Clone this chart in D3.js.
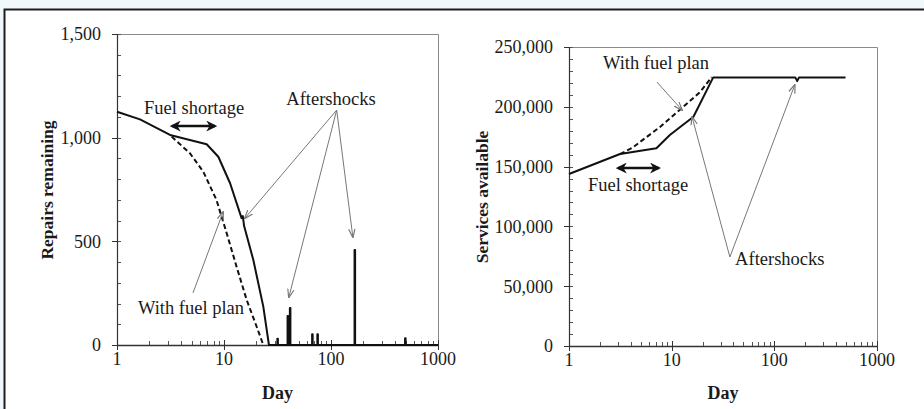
<!DOCTYPE html>
<html>
<head>
<meta charset="utf-8">
<script src="https://cdn.jsdelivr.net/npm/d3@7"></script>
<style>
  body { margin: 0; background: #f1f8fb; }
  svg { display: block; }
  text { font-family: "Liberation Serif", "Times New Roman", serif; fill: #1a1a1a; }
</style>
</head>
<body>
<svg width="924" height="409"></svg>
<script>
// ---- data ----
const dayTicks = [1, 10, 100, 1000];

// left panel: repairs remaining
const repairsDays = [1, 1.64, 3.13, 6.89, 8.85, 11.4, 14.6, 15.0, 15.4, 18.8, 23.3, 26.3, 1000];
const repairsVals = [1125, 1088, 1013, 968, 908, 780, 612, 622, 575, 410, 185, 0, 0];
const repairsPlanDays = [3.24, 4.8, 6.4, 8.5, 10.6, 13.1, 16.3, 20.2, 23.3];
const repairsPlanVals = [1005, 925, 836, 700, 539, 378, 217, 88, 0];
const spikeDays = [31.7, 39.5, 41.5, 67, 75, 167, 495];
const spikeVals = [30, 140, 178, 52, 52, 458, 32];
const repairsTicks = [0, 500, 1000, 1500];

// right panel: services available
const servDays = [1, 3.14, 7.1, 9.6, 16.3, 25.4, 160, 167, 174, 494];
const servVals = [143800, 160500, 165300, 176400, 191700, 224600, 224600, 221500, 224600, 224600];
const servPlanDays = [3.14, 4.1, 7.7, 12.6, 18.9, 24.6];
const servPlanVals = [160500, 165500, 183100, 199000, 212300, 224900];
const servTicks = [0, 50000, 100000, 150000, 200000, 250000];

const svg = d3.select('svg');
svg.append('rect').attr('width', 924).attr('height', 409).attr('fill', '#f1f8fb');
svg.append('rect').attr('x', 4).attr('y', 9).attr('width', 920).attr('height', 400).attr('fill', '#fff');
svg.append('path').attr('d', 'M4.5,409 L4.5,9.5 L924,9.5')
  .attr('fill', 'none').attr('stroke', '#1e1e1e').attr('stroke-width', 2);

const defs = svg.append('defs');
defs.append('marker').attr('id', 'thin')
  .attr('viewBox', '0 0 10 10').attr('refX', 9).attr('refY', 5)
  .attr('markerWidth', 9).attr('markerHeight', 9).attr('markerUnits', 'userSpaceOnUse')
  .attr('orient', 'auto')
  .append('path').attr('d', 'M0,1.5 L10,5 L0,8.5').attr('fill', 'none').attr('stroke', '#777').attr('stroke-width', 1.3);
defs.append('marker').attr('id', 'bold')
  .attr('viewBox', '0 0 10 10').attr('refX', 8).attr('refY', 5)
  .attr('markerWidth', 11).attr('markerHeight', 11).attr('markerUnits', 'userSpaceOnUse')
  .attr('orient', 'auto-start-reverse')
  .append('path').attr('d', 'M0,0 L10,5 L0,10 L3,5 Z').attr('fill', '#111');

function zip(ds, vs) { return ds.map((d, i) => ({ d: d, v: vs[i] })); }

function panel(cfg) {
  const x = d3.scaleLog().domain([1, 1000]).range([cfg.x0, cfg.x1]);
  const y = d3.scaleLinear().domain([0, cfg.yMax]).range([cfg.y1, cfg.y0]);
  const g = svg.append('g');

  // plot frame (top + right)
  g.append('path')
    .attr('d', `M${cfg.x0},${cfg.y0 + 0.5} L${cfg.x1 + 0.5},${cfg.y0 + 0.5} L${cfg.x1 + 0.5},${cfg.y1}`)
    .attr('fill', 'none').attr('stroke', '#8a8a8a').attr('stroke-width', 1);

  // y minor ticks
  const yMinor = d3.range(0, cfg.yMax + 1, cfg.yMinorStep);
  g.selectAll('.ym').data(yMinor).enter().append('line')
    .attr('x1', cfg.x0).attr('x2', cfg.x0 + 4)
    .attr('y1', d => Math.round(y(d)) + 0.5).attr('y2', d => Math.round(y(d)) + 0.5)
    .attr('stroke', '#555');
  g.selectAll('.yM').data(cfg.yTicks).enter().append('line')
    .attr('x1', cfg.x0 - 5).attr('x2', cfg.x0)
    .attr('y1', d => Math.round(y(d)) + 0.5).attr('y2', d => Math.round(y(d)) + 0.5)
    .attr('stroke', '#333');
  g.selectAll('.yl').data(cfg.yTicks).enter().append('text')
    .attr('x', cfg.x0 - 16).attr('y', d => y(d)).attr('dy', '0.35em')
    .attr('text-anchor', 'end').attr('font-size', 18)
    .text(d3.format(','));

  // x minor ticks
  const xMinor = [];
  [1, 10, 100].forEach(b => { for (let k = 2; k < 10; k++) xMinor.push(b * k); });
  g.selectAll('.xm').data(xMinor).enter().append('line')
    .attr('x1', d => Math.round(x(d)) + 0.5).attr('x2', d => Math.round(x(d)) + 0.5)
    .attr('y1', cfg.y1 - 4).attr('y2', cfg.y1)
    .attr('stroke', '#555');
  g.selectAll('.xM').data(dayTicks).enter().append('line')
    .attr('x1', d => Math.round(x(d)) + 0.5).attr('x2', d => Math.round(x(d)) + 0.5)
    .attr('y1', cfg.y1 - 5).attr('y2', cfg.y1 + 5)
    .attr('stroke', '#333');
  g.selectAll('.xl').data(dayTicks).enter().append('text')
    .attr('x', d => x(d)).attr('y', cfg.y1 + 20)
    .attr('text-anchor', 'middle').attr('font-size', 18)
    .text(d => d);

  // axis lines
  g.append('line').attr('x1', cfg.x0 + 0.5).attr('x2', cfg.x0 + 0.5)
    .attr('y1', cfg.y0).attr('y2', cfg.y1).attr('stroke', '#333').attr('stroke-width', 1.2);
  g.append('line').attr('x1', cfg.x0).attr('x2', cfg.x1)
    .attr('y1', cfg.y1 + 0.5).attr('y2', cfg.y1 + 0.5).attr('stroke', '#333').attr('stroke-width', 1.5);

  // titles
  g.append('text').attr('x', (cfg.x0 + cfg.x1) / 2).attr('y', 399)
    .attr('text-anchor', 'middle').attr('font-size', 18).attr('font-weight', 'bold').text('Day');
  g.append('text')
    .attr('transform', `translate(${cfg.titleX},${cfg.titleY}) rotate(-90)`)
    .attr('dy', '0.35em')
    .attr('text-anchor', 'middle').attr('font-size', 17.5).attr('font-weight', 'bold').text(cfg.yTitle);

  const line = d3.line().x(p => x(p.d)).y(p => y(p.v));
  g.append('path').datum(cfg.plan).attr('d', line)
    .attr('fill', 'none').attr('stroke', '#111').attr('stroke-width', 2).attr('stroke-dasharray', '5,3');
  g.append('path').datum(cfg.main).attr('d', line)
    .attr('fill', 'none').attr('stroke', '#111').attr('stroke-width', 2).attr('stroke-linejoin', 'round');

  // annotations
  cfg.notes.forEach(n => {
    g.append('text').attr('x', x(n.d)).attr('y', y(n.v))
      .attr('text-anchor', n.anchor || 'middle').attr('font-size', 18.5).text(n.text);
  });
  cfg.pointers.forEach(p => {
    g.append('line').attr('x1', x(p.from[0])).attr('y1', y(p.from[1]))
      .attr('x2', x(p.to[0])).attr('y2', y(p.to[1]))
      .attr('stroke', '#777').attr('stroke-width', 1).attr('marker-end', 'url(#thin)');
  });
  const s = cfg.span;
  g.append('line').attr('x1', x(s[0])).attr('x2', x(s[1])).attr('y1', y(s[2])).attr('y2', y(s[2]))
    .attr('stroke', '#111').attr('stroke-width', 2.5)
    .attr('marker-start', 'url(#bold)').attr('marker-end', 'url(#bold)');
}

// build repair series with spikes after the work is done
let repairsMain = zip(repairsDays, repairsVals);
spikeDays.forEach((d, i) => {
  repairsMain.push({ d: d / 1.006, v: 0 }, { d: d / 1.006, v: spikeVals[i] },
                   { d: d * 1.006, v: spikeVals[i] }, { d: d * 1.006, v: 0 });
});
repairsMain.sort((a, b) => a.d - b.d);

panel({
  x0: 117, x1: 438, y0: 34, y1: 345, yMax: 1500, yMinorStep: 100,
  yTicks: repairsTicks, yTitle: 'Repairs remaining', titleX: 47, titleY: 190,
  main: repairsMain, plan: zip(repairsPlanDays, repairsPlanVals),
  notes: [
    { text: 'Fuel shortage', d: 5.25, v: 1114 },
    { text: 'Aftershocks', d: 100, v: 1158 },
    { text: 'With fuel plan', d: 4.92, v: 150 }
  ],
  pointers: [
    { from: [113, 1133], to: [15.7, 612] },
    { from: [113, 1133], to: [40.4, 231] },
    { from: [113, 1133], to: [160, 521] },
    { from: [5.13, 251], to: [9.8, 641] }
  ],
  span: [3.26, 8.25, 1056]
});

panel({
  x0: 569, x1: 877, y0: 47, y1: 346, yMax: 250000, yMinorStep: 10000,
  yTicks: servTicks, yTitle: 'Services available', titleX: 482, titleY: 197,
  main: zip(servDays, servVals), plan: zip(servPlanDays, servPlanVals),
  notes: [
    { text: 'With fuel plan', d: 7.04, v: 231600 },
    { text: 'Fuel shortage', d: 4.7, v: 129600 },
    { text: 'Aftershocks', d: 41.5, v: 67700, anchor: 'start' }
  ],
  pointers: [
    { from: [7.19, 220700], to: [12.6, 197300] },
    { from: [36.9, 74400], to: [15.8, 191500] },
    { from: [36.9, 74400], to: [158, 218200] }
  ],
  span: [3.0, 7.5, 148800]
});
</script>
</body>
</html>
